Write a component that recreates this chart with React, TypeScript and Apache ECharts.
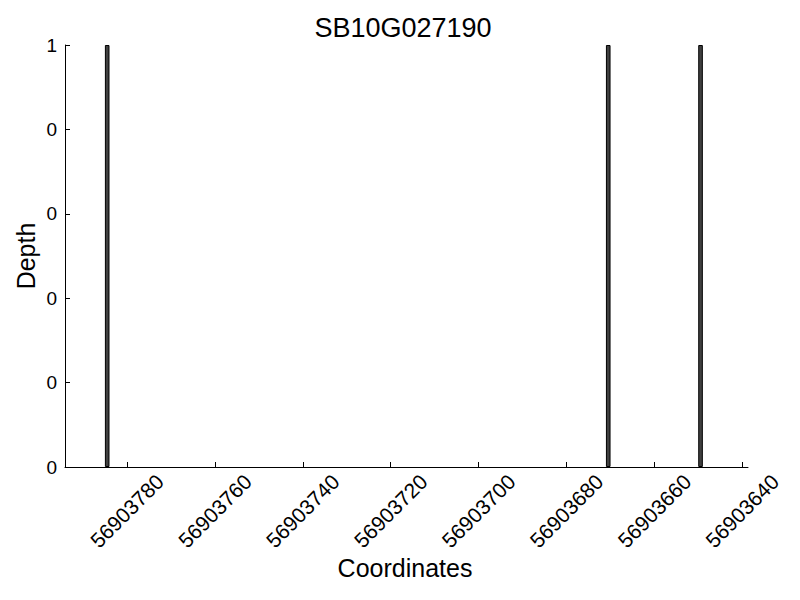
import React, { useEffect, useRef } from "react";
import * as echarts from "echarts";

const chartTitle = "SB10G027190";
const xAxisTitle = "Coordinates";
const yAxisTitle = "Depth";
// bar left-edge coordinates (bars are 1 bp wide, aligned on the edge)
const coordinates = [56903784, 56903670, 56903649];
const depths = [1, 1, 1];
const xTicks = [56903780, 56903760, 56903740, 56903720, 56903700, 56903680, 56903660, 56903640];
const yTicks = [0, 0.2, 0.4, 0.6, 0.8, 1];
const yTickLabels = ["0", "0", "0", "0", "0", "1"];
const xMin = 56903638.7;
const xMax = 56903794.1;

const FONT = "Liberation Sans, Arial, Helvetica, sans-serif";

export default function App() {
  const ref = useRef<HTMLDivElement>(null);
  useEffect(() => {
    if (!ref.current) return;
    const chart = echarts.init(ref.current, undefined, { renderer: "svg" });
    const barData = coordinates.map((c, i) => [c + 0.5, depths[i]]);
    chart.setOption({
      animation: false,
      backgroundColor: "#ffffff",
      grid: { left: 65, right: 52, top: 45, bottom: 133, containLabel: false },
      xAxis: {
        type: "value",
        inverse: true,
        min: xMin,
        max: xMax,
        axisLine: { show: true, lineStyle: { color: "#000", width: 1 } },
        axisTick: { show: true, inside: true, length: 5, lineStyle: { color: "#000" }, customValues: xTicks },
        axisLabel: {
          customValues: xTicks,
          rotate: 45,
          align: "center",
          verticalAlign: "middle",
          margin: 44,
          fontSize: 21,
          fontFamily: FONT,
          color: "#000",
          formatter: (v: number) => String(Math.round(v)),
        },
        splitLine: { show: false },
      },
      yAxis: {
        type: "value",
        min: 0,
        max: 1,
        interval: 0.2,
        axisLine: { show: true, lineStyle: { color: "#000", width: 1 } },
        axisTick: { show: true, inside: true, length: 5, lineStyle: { color: "#000" } },
        axisLabel: {
          margin: 8,
          fontSize: 19,
          fontFamily: FONT,
          color: "#000",
          formatter: (v: number) => {
            const idx = yTicks.findIndex((t) => Math.abs(t - v) < 1e-6);
            return idx >= 0 ? yTickLabels[idx] : "";
          },
        },
        splitLine: { show: false },
      },
      series: [
        {
          type: "bar",
          data: barData,
          barWidth: 4.6,
          itemStyle: { color: "#404040", borderColor: "#000", borderWidth: 1 },
        },
      ],
      graphic: [
        {
          type: "text",
          x: 403,
          y: 28,
          style: { text: chartTitle, fontSize: 27, fontFamily: FONT, fill: "#000", align: "center", verticalAlign: "middle" },
        },
        {
          type: "text",
          x: 405,
          y: 568,
          style: { text: xAxisTitle, fontSize: 25, fontFamily: FONT, fill: "#000", align: "center", verticalAlign: "middle" },
        },
        {
          type: "text",
          x: 26,
          y: 256,
          rotation: Math.PI / 2,
          style: { text: yAxisTitle, fontSize: 25, fontFamily: FONT, fill: "#000", align: "center", verticalAlign: "middle" },
        },
      ],
    });
    return () => chart.dispose();
  }, []);
  return <div ref={ref} style={{ width: 800, height: 600, position: "absolute", left: 0, top: 0 }} />;
}
